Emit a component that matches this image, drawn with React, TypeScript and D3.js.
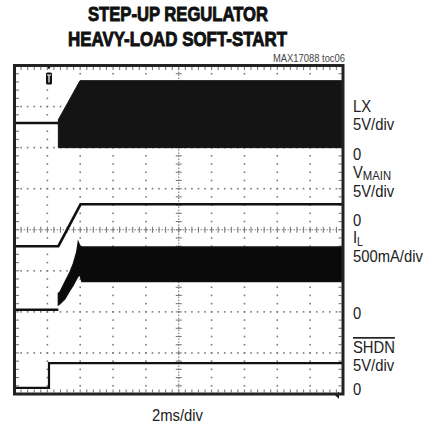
import * as d3 from "d3";
import React from "react";

// scope settings
const msPerDiv = 2;
const divsX = 10;
const divsY = 8;
const minorPerDiv = 5;

const titleLines = ["STEP-UP REGULATOR", "HEAVY-LOAD SOFT-START"];
const figureId = "MAX17088 toc06";
const timebase = "2ms/div";

// channel offsets (divisions from bottom) and scale (units per div)
const lxChan = { zero: 6, perDiv: 5 };
const vmainChan = { zero: 3, perDiv: 5 };
const ilChan = { zero: 2.05, perDiv: 500 };
const shdnChan = { zero: 0.15, perDiv: 5 };

// LX (V): idle level, then switching envelope [t ms, low, high]
const lxIdle: [number, number][] = [
  [0, 3.0],
  [2.67, 3.0],
];
const lxBand: [number, number, number][] = [
  [2.67, 0, 3.4],
  [3.99, 0, 8.15],
  [20, 0, 8.15],
];

// VMAIN (V)
const vmain: [number, number][] = [
  [0, 3.0],
  [2.67, 3.0],
  [4.02, 8.1],
  [20, 8.1],
];

// IL (mA): idle, then ripple envelope [t ms, low, high]
const ilIdle: [number, number][] = [
  [0, 0],
  [2.67, 0],
];
const ilBand: [number, number, number][] = [
  [2.67, 60, 200],
  [2.77, 75, 217],
  [3.07, 135, 339],
  [3.38, 241, 461],
  [3.58, 300, 562],
  [3.68, 340, 630],
  [3.79, 380, 704],
  [3.88, 410, 826],
  [3.99, 424, 775],
  [4.1, 345, 765],
  [20, 345, 765],
];

// SHDN (V)
const shdn: [number, number][] = [
  [0, 0],
  [2.1, 0],
  [2.1, 3.0],
  [20, 3.0],
];

const triggerMs = 2.1;

export default function App() {
  const width = 438;
  const height = 425;
  const left = 14.5;
  const right = 343;
  const top = 65.5;
  const bottom = 394;

  const x = d3.scaleLinear([0, divsX * msPerDiv], [left, right]);
  const y = d3.scaleLinear([0, divsY], [bottom, top]);

  const toDiv = (ch: { zero: number; perDiv: number }, v: number) =>
    ch.zero + v / ch.perDiv;

  const lineFor = (ch: { zero: number; perDiv: number }) =>
    d3
      .line<[number, number]>()
      .x((d) => x(d[0]))
      .y((d) => y(toDiv(ch, d[1])));

  const areaFor = (ch: { zero: number; perDiv: number }) =>
    d3
      .area<[number, number, number]>()
      .x((d) => x(d[0]))
      .y0((d) => y(toDiv(ch, d[1])))
      .y1((d) => y(toDiv(ch, d[2])));

  const minorX = d3.range(1, divsX * minorPerDiv).map((k) => (k * msPerDiv) / minorPerDiv);
  const minorY = d3.range(1, divsY * minorPerDiv).map((k) => k / minorPerDiv);
  const gridX = d3.range(1, divsX).filter((i) => i !== divsX / 2).map((i) => i * msPerDiv);
  const gridY = d3.range(1, divsY).filter((j) => j !== divsY / 2);
  const cx = x((divsX / 2) * msPerDiv);
  const cy = y(divsY / 2);
  const dot = 1.6;
  const gridColor = "#7a7a7a";
  const ink = "#111";

  const label = "Liberation Sans, Arial, Helvetica, sans-serif";

  return (
    <svg
      width={width}
      height={height}
      style={{ position: "absolute", left: 0, top: 0, background: "#fff" }}
    >
      {/* title */}
      <g fontFamily={label} fontWeight="bold" fontSize={20} fill="#111" stroke="#111" strokeWidth={0.9}>
        <text x={88} y={21} textLength={180} lengthAdjust="spacingAndGlyphs">
          {titleLines[0]}
        </text>
        <text x={68} y={45.5} textLength={219} lengthAdjust="spacingAndGlyphs">
          {titleLines[1]}
        </text>
      </g>
      <text
        x={273}
        y={61.5}
        fontFamily={label}
        fontSize={10}
        fill="#444"
        textLength={72}
        lengthAdjust="spacingAndGlyphs"
      >
        {figureId}
      </text>

      {/* graticule dots */}
      <g fill={gridColor}>
        {gridX.map((t) =>
          minorY.map((d) => (
            <rect key={`v${t}-${d}`} x={x(t) - dot / 2} y={y(d) - dot / 2} width={dot} height={dot} />
          ))
        )}
        {gridY.map((j) =>
          minorX.map((t) => (
            <rect key={`h${j}-${t}`} x={x(t) - dot / 2} y={y(j) - dot / 2} width={dot} height={dot} />
          ))
        )}
      </g>
      {/* center crosshair with minor ticks */}
      <g stroke={gridColor} strokeWidth={1.1}>
        <line x1={cx} x2={cx} y1={top} y2={bottom} strokeDasharray="1.5 1.5" />
        <line x1={left} x2={right} y1={cy} y2={cy} strokeDasharray="1.5 1.5" />
        {minorY.map((d) => (
          <line key={`cy${d}`} x1={cx - 3} x2={cx + 3} y1={y(d)} y2={y(d)} />
        ))}
        {minorX.map((t) => (
          <line key={`cx${t}`} x1={x(t)} x2={x(t)} y1={cy - 3} y2={cy + 3} />
        ))}
        {/* edge ticks */}
        {minorX.map((t) => (
          <g key={`e${t}`}>
            <line x1={x(t)} x2={x(t)} y1={top + 1.5} y2={top + 4.5} />
            <line x1={x(t)} x2={x(t)} y1={bottom - 1.5} y2={bottom - 4.5} />
          </g>
        ))}
        {minorY.map((d) => (
          <g key={`f${d}`}>
            <line x1={left + 1.5} x2={left + 4.5} y1={y(d)} y2={y(d)} />
            <line x1={right - 1.5} x2={right - 4.5} y1={y(d)} y2={y(d)} />
          </g>
        ))}
      </g>

      {/* traces */}
      <g>
        <path d={lineFor(lxChan)(lxIdle) ?? ""} fill="none" stroke={ink} strokeWidth={2.5} />
        <path d={areaFor(lxChan)(lxBand) ?? ""} fill="#141414" stroke={ink} strokeWidth={1} />
        <path d={lineFor(vmainChan)(vmain) ?? ""} fill="none" stroke={ink} strokeWidth={2.6} />
        <path d={lineFor(ilChan)(ilIdle) ?? ""} fill="none" stroke={ink} strokeWidth={2.5} />
        <path d={areaFor(ilChan)(ilBand) ?? ""} fill="#0a0a0a" stroke={ink} strokeWidth={1.4} />
        <path d={lineFor(shdnChan)(shdn) ?? ""} fill="none" stroke={ink} strokeWidth={2.2} />
      </g>

      {/* trigger marker */}
      <g transform={`translate(${x(triggerMs)},0)`}>
        <path d={`M-3,${top - 1} L3,${top - 1} L0,${top + 4} Z`} fill="#111" />
        <rect x={-3} y={top + 7} width={6} height={12} rx={1.5} fill="#111" />
        <path d={`M-2,${top + 9.5} H2 M0,${top + 9.5} V${top + 17}`} stroke="#fff" strokeWidth={1.2} />
      </g>
      {/* SHDN ground-level marker at right edge */}
      <path
        d={`M${right - 8},${y(toDiv(shdnChan, -0.9))} L${right - 4},${y(toDiv(shdnChan, -0.9)) - 3.5} L${right - 4},${y(toDiv(shdnChan, -0.9)) + 3.5} Z`}
        fill="#111"
      />

      {/* frame */}
      <rect x={left} y={top} width={right - left} height={bottom - top} fill="none" stroke="#222" strokeWidth={3} />

      {/* channel labels */}
      <g transform="translate(353,0) scale(0.87,1)" fontFamily={label} fontSize={17} fill="#222">
        <text y={112.5}>LX</text>
        <text y={130}>5V/div</text>
        <text y={160}>0</text>
        <text y={178}>
          V<tspan fontSize={13} dy={2}>MAIN</tspan>
        </text>
        <text y={197}>5V/div</text>
        <text y={226.5}>0</text>
        <text y={243}>
          I<tspan fontSize={12} dy={3.5}>L</tspan>
        </text>
        <text y={262.5}>500mA/div</text>
        <text y={319}>0</text>
        <text y={353} textDecoration="overline">SHDN</text>
        <text y={371}>5V/div</text>
        <text y={395}>0</text>
      </g>
      <g transform="translate(177.5,0) scale(0.87,1)" fontFamily={label} fontSize={17} fill="#222">
        <text y={421} textAnchor="middle">
          {timebase}
        </text>
      </g>
    </svg>
  );
}
